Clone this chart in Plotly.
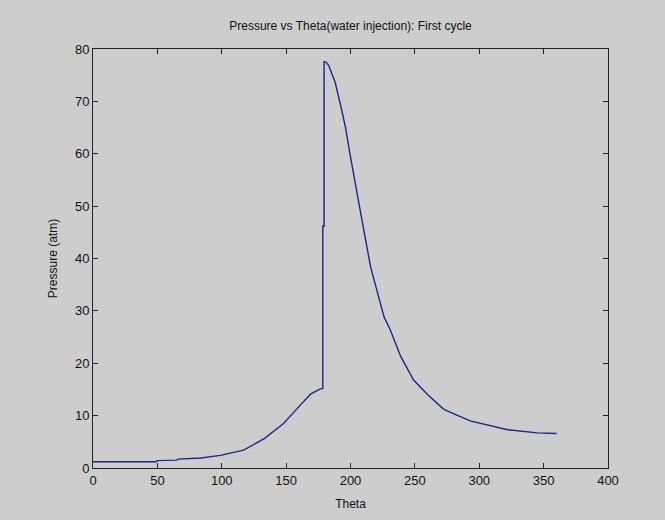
import plotly.graph_objects as go

# values
theta = [0, 49, 50, 65, 66, 84, 99, 117, 133, 148, 161, 169, 176.5, 178.5,
         178.5, 179.5, 179.5, 181, 183, 188, 192, 196, 200, 204, 207, 215.6,
         226, 231, 239, 249, 260, 272, 275, 293, 314, 322, 345, 360]
pressure = [1.2, 1.2, 1.4, 1.5, 1.7, 1.9, 2.4, 3.4, 5.6, 8.5, 12.0, 14.1, 15.1, 15.2,
            46.2, 46.2, 77.6, 77.5, 76.9, 73.7, 69.6, 65.2, 59.4, 54.3, 49.9, 38.4,
            28.9, 26.3, 21.3, 16.8, 14.0, 11.3, 10.9, 9.0, 7.7, 7.3, 6.7, 6.6]

bg = '#cdcdcd'
font = dict(family='Liberation Sans, Arial, sans-serif', size=12, color='#111111')
tick_font = dict(family='Liberation Sans, Arial, sans-serif', size=13, color='#111111')

fig = go.Figure()
fig.add_trace(go.Scatter(x=theta, y=pressure, mode='lines',
                         line=dict(color='#22228a', width=1.4), showlegend=False))

axis_style = dict(showgrid=False, zeroline=False, showline=True, linecolor='#222222',
                  linewidth=1, mirror='ticks', ticks='inside', ticklen=5,
                  tickcolor='#222222', tickfont=tick_font)

fig.update_layout(
    width=665, height=520,
    paper_bgcolor=bg, plot_bgcolor=bg,
    margin=dict(l=93, r=57, t=49, b=52),
    font=font,
    title=dict(text='Pressure vs Theta(water injection): First cycle',
               x=0.5, xref='paper', y=1 - 26 / 520, yref='container',
               yanchor='middle', font=font),
)
fig.update_xaxes(range=[0, 400], dtick=50, title=dict(text='Theta', font=font, standoff=13),
                 **axis_style)
fig.update_yaxes(range=[0, 80], dtick=10, title=dict(text='Pressure (atm)', font=font, standoff=14),
                 **axis_style)

# drop the page margin so the figure sits at the window's corner
fig.write_html("out.html", config={'displayModeBar': False},
               post_script="document.body.style.margin='0';document.body.style.background='#cdcdcd';")
